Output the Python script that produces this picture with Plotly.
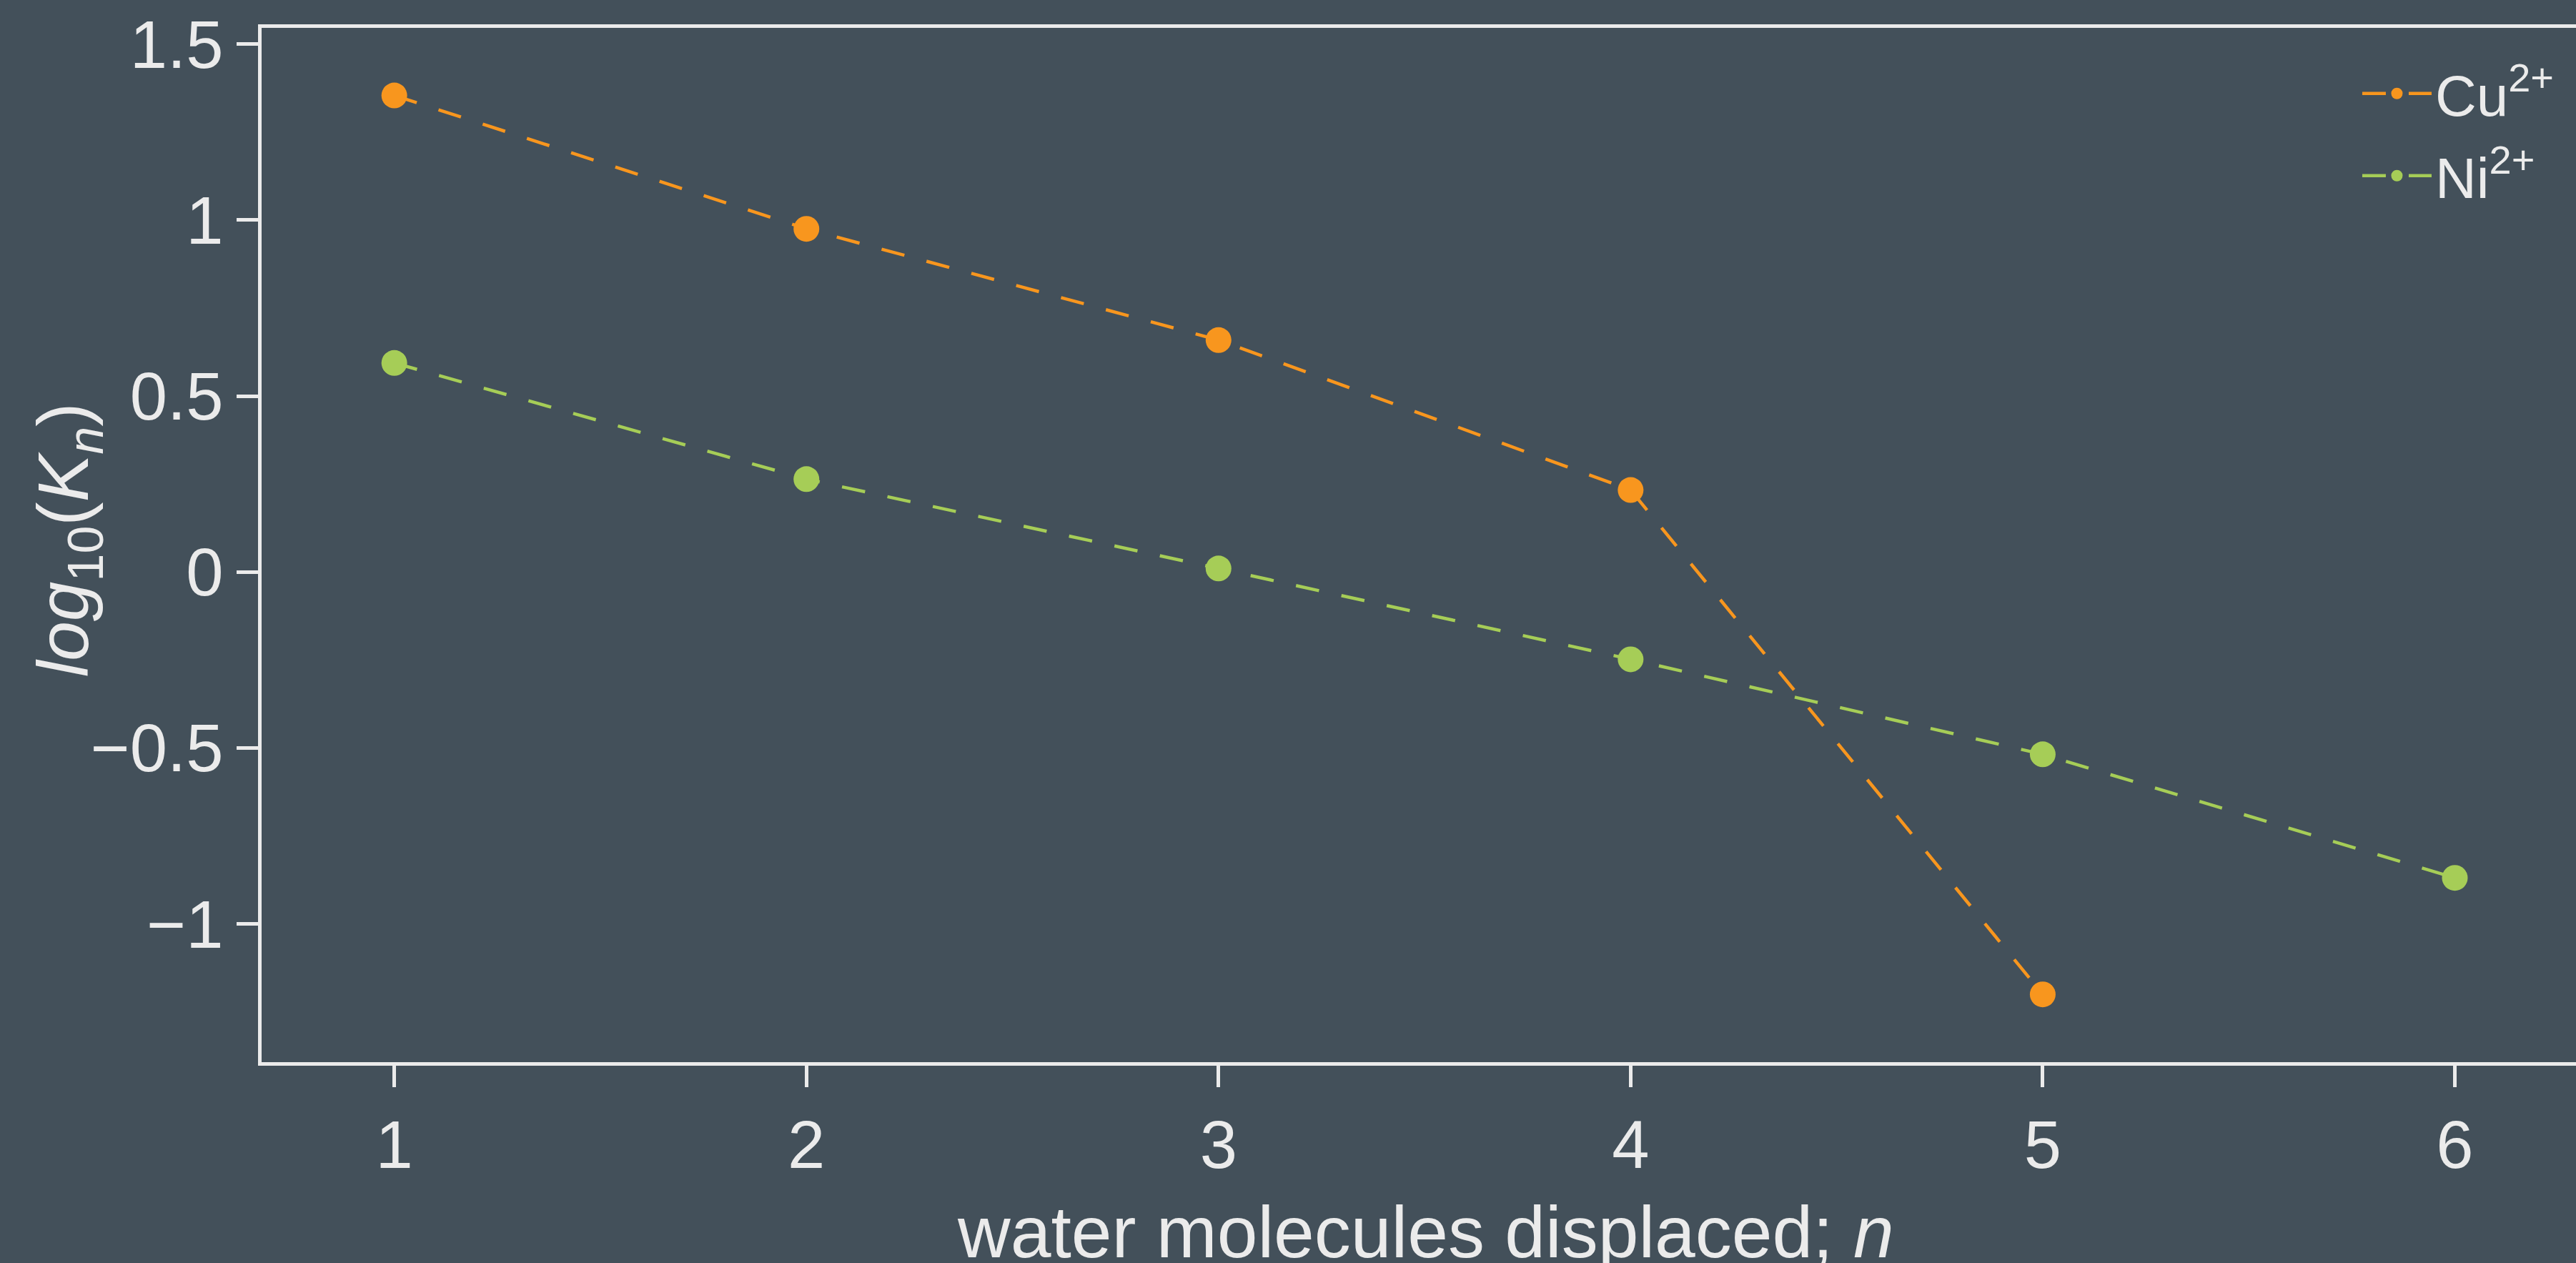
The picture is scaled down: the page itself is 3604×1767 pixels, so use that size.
import plotly.graph_objects as go

# ---- data ----
n_cu = [1, 2, 3, 4, 5]
logk_cu = [1.354, 0.975, 0.659, 0.233, -1.20]
n_ni = [1, 2, 3, 4, 5, 6]
logk_ni = [0.594, 0.264, 0.010, -0.248, -0.518, -0.869]
series_names = ["Cu<sup>2+</sup>", "Ni<sup>2+</sup>"]
x_ticks = [1, 2, 3, 4, 5, 6]
y_ticks = [-1, -0.5, 0, 0.5, 1, 1.5]

# ---- style ----
W, H = 3604, 1767
BG = "#43505A"
FG = "#EBEBEB"
ORANGE = "#F8961E"
GREEN = "#A6CD57"
FONT = "Liberation Sans, Arial, Helvetica, sans-serif"
ML, MR, MT, MB = 366, 0, 39, 281
DASH = "33px,32px"

fig = go.Figure()
fig.add_trace(go.Scatter(
    x=n_cu, y=logk_cu, name=series_names[0], mode="lines+markers",
    legendgroup="cu",
    line=dict(color=ORANGE, width=4.5, dash=DASH),
    marker=dict(color=ORANGE, size=36),
))
fig.add_trace(go.Scatter(
    x=n_ni, y=logk_ni, name=series_names[1], mode="lines+markers",
    legendgroup="ni",
    line=dict(color=GREEN, width=4.5, dash=DASH),
    marker=dict(color=GREEN, size=36),
))

fig.update_layout(
    width=W, height=H,
    margin=dict(l=ML, r=MR, t=MT, b=MB, autoexpand=False),
    paper_bgcolor=BG, plot_bgcolor=BG,
    font=dict(family=FONT, color=FG, size=94),
    showlegend=True,
    legend=dict(
        x=0.9061, y=0.977, xanchor="left", yanchor="top",
        bgcolor="rgba(0,0,0,0)", borderwidth=0,
        font=dict(size=80, color=FG, family=FONT),
        itemwidth=97, tracegroupgap=8, traceorder="grouped",
    ),
    xaxis=dict(
        range=[0.678, 6.294], tickmode="array", tickvals=x_ticks,
        showgrid=False, zeroline=False,
        showline=True, linecolor=FG, linewidth=4.5, mirror=True,
        ticks="outside", ticklen=30, tickwidth=4.5, tickcolor=FG,
        tickfont=dict(size=94, color=FG, family=FONT),
        automargin=False,
    ),
    yaxis=dict(
        range=[-1.3926, 1.546], tickmode="array", tickvals=y_ticks,
        showgrid=False, zeroline=False,
        showline=True, linecolor=FG, linewidth=4.5, mirror=False,
        ticks="outside", ticklen=30, tickwidth=4.5, tickcolor=FG,
        tickfont=dict(size=94, color=FG, family=FONT),
        automargin=False,
    ),
    annotations=[
        dict(text="water molecules displaced; <i>n</i>", xref="paper", yref="paper",
             x=0.5028, y=-(1724 - 1486) / (1486 - 39), xanchor="center", yanchor="middle",
             showarrow=False, font=dict(size=102, color=FG, family=FONT)),
        dict(text="<i>log</i><sub>10</sub>(<i>K</i><sub><i>n</i></sub>)", xref="paper", yref="paper",
             x=(95 - ML) / (W - ML), y=(1486 - 755) / (1486 - 39), xanchor="center", yanchor="middle",
             textangle=-90, showarrow=False, font=dict(size=100, color=FG, family=FONT)),
    ],
)

fig.write_html("out.html")
